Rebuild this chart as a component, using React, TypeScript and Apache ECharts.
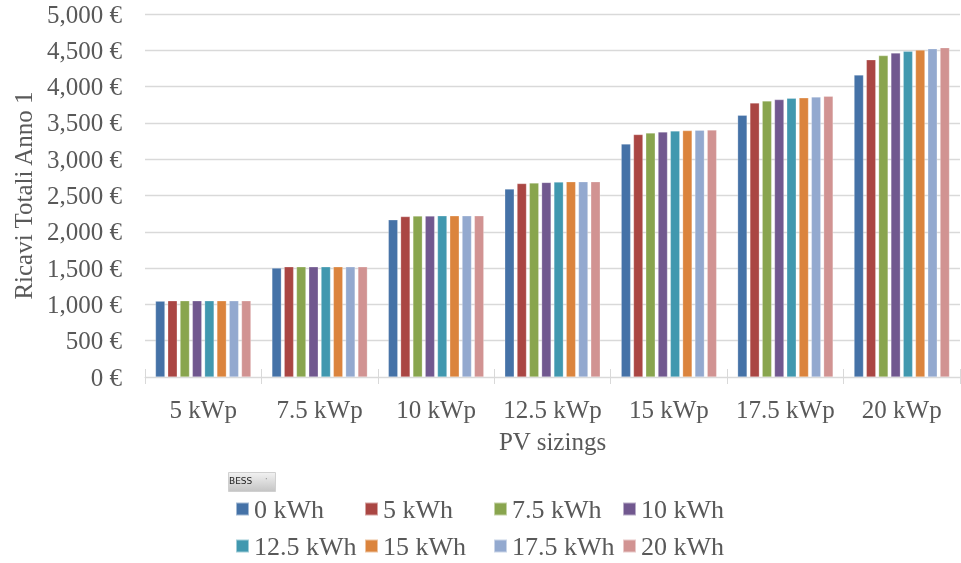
import React, { useEffect, useRef } from "react";
import * as echarts from "echarts";

const categories = ["5 kWp", "7.5 kWp", "10 kWp", "12.5 kWp", "15 kWp", "17.5 kWp", "20 kWp"];
const seriesNames = ["0 kWh", "5 kWh", "7.5 kWh", "10 kWh", "12.5 kWh", "15 kWh", "17.5 kWh", "20 kWh"];
const bess0 = [1045, 1500, 2165, 2590, 3210, 3605, 4160];
const bess5 = [1050, 1518, 2210, 2665, 3340, 3775, 4370];
const bess7_5 = [1050, 1518, 2218, 2672, 3362, 3803, 4427];
const bess10 = [1050, 1518, 2218, 2680, 3376, 3821, 4464];
const bess12_5 = [1050, 1518, 2220, 2685, 3390, 3840, 4486];
const bess15 = [1050, 1518, 2220, 2690, 3394, 3845, 4504];
const bess17_5 = [1050, 1518, 2220, 2690, 3399, 3858, 4522];
const bess20 = [1050, 1518, 2220, 2690, 3403, 3867, 4536];
const seriesValues = [bess0, bess5, bess7_5, bess10, bess12_5, bess15, bess17_5, bess20];
const colors = ["#4572A7", "#AA4643", "#89A54E", "#71588F", "#4198AF", "#DB843D", "#93A9CF", "#D19392"];

const FONT = "'Liberation Serif', 'Times New Roman', serif";
const TXT = "#595959";

export default function App() {
  const ref = useRef<HTMLDivElement>(null);
  useEffect(() => {
    if (!ref.current) return;
    const chart = echarts.init(ref.current, null, { renderer: "svg" });
    const legendX = [235, 364, 493, 622];
    const legendY = [496, 533];
    const legends = seriesNames.map((n, i) => ({
      data: [n],
      left: legendX[i % 4],
      top: legendY[Math.floor(i / 4)],
      padding: 0,
      itemWidth: 13,
      itemHeight: 13,
      itemGap: 0,
      selectedMode: false,
      icon: "rect",
      textStyle: { fontFamily: FONT, fontSize: 26, color: TXT, padding: [0, 0, 0, 0], lineHeight: 26 },
    }));
    chart.setOption({
      animation: false,
      color: colors,
      grid: { left: 145, right: 1, top: 14, bottom: 186, containLabel: false },
      legend: legends,
      xAxis: [
        {
          type: "category",
          data: categories,
          name: "PV sizings",
          nameLocation: "middle",
          nameGap: 52,
          nameTextStyle: { fontFamily: FONT, fontSize: 25, color: TXT },
          axisLine: { lineStyle: { color: "#d9d9d9", width: 1 } },
          axisTick: { show: true, length: 7, lineStyle: { color: "#d9d9d9" } },
          axisLabel: { fontFamily: FONT, fontSize: 25, color: TXT, margin: 20, interval: 0 },
        },
        {
          type: "category",
          data: categories,
          position: "bottom",
          axisLine: { show: false },
          axisTick: { show: true, inside: true, length: 8, lineStyle: { color: "#d9d9d9" } },
          axisLabel: { show: false },
        },
      ],
      yAxis: {
        type: "value",
        min: 0,
        max: 5000,
        interval: 500,
        name: "Ricavi Totali Anno 1",
        nameLocation: "middle",
        nameGap: 108,
        nameTextStyle: { fontFamily: FONT, fontSize: 25, color: TXT },
        axisLine: { show: false },
        axisTick: { show: false },
        splitLine: { lineStyle: { color: "#d9d9d9", width: 1.3 } },
        axisLabel: {
          fontFamily: FONT,
          fontSize: 25,
          color: TXT,
          margin: 23,
          formatter: (v: number) => v.toLocaleString("en-US") + " €",
        },
      },
      series: seriesNames.map((n, i) => ({
        name: n,
        type: "bar",
        data: seriesValues[i],
        barCategoryGap: "18%",
        barGap: "30%",
        itemStyle: { borderColor: "rgba(255,255,255,0.5)", borderWidth: 0.5 },
      })),
      graphic: [
        {
          type: "rect",
          left: 228,
          top: 472,
          shape: { width: 47, height: 19 },
          style: {
            fill: new echarts.graphic.LinearGradient(0, 0, 0, 1, [
              { offset: 0, color: "#f2f2f2" },
              { offset: 1, color: "#c4c4c4" },
            ]),
            stroke: "#d0d0d0",
          },
        },
        {
          type: "text",
          left: 229,
          top: 476,
          style: { text: "BESS", fontFamily: "'DejaVu Sans', sans-serif", fontSize: 9, fill: "#222" },
        },
        {
          type: "text",
          left: 265,
          top: 475,
          style: { text: "·", fontFamily: "'DejaVu Sans', sans-serif", fontSize: 8, fill: "#888" },
        },
      ],
    });
    return () => chart.dispose();
  }, []);
  return <div ref={ref} style={{ position: "fixed", left: 0, top: 0, width: 961, height: 563 }} />;
}
